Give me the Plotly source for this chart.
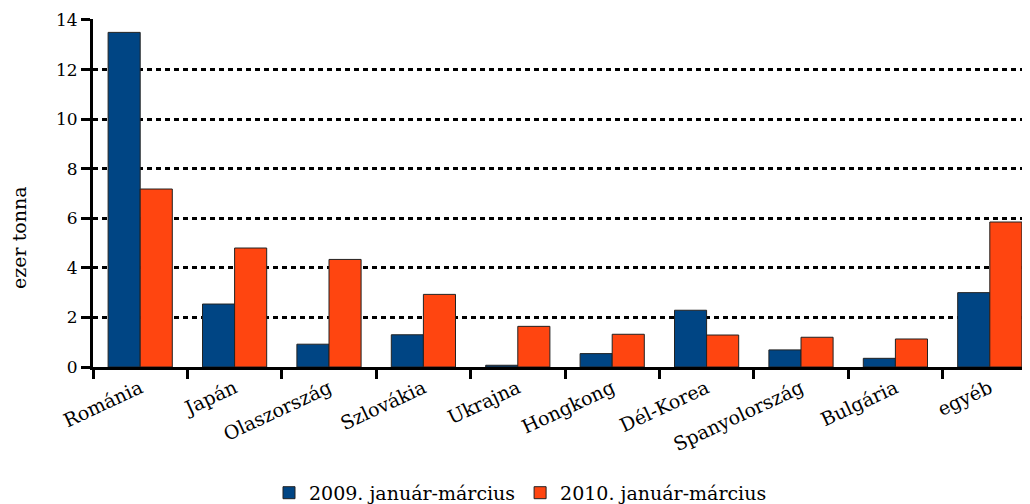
import plotly.graph_objects as go

categories = ["Románia", "Japán", "Olaszország", "Szlovákia", "Ukrajna",
              "Hongkong", "Dél-Korea", "Spanyolország", "Bulgária", "egyéb"]
values_2009 = [13.5, 2.54, 0.92, 1.30, 0.07, 0.54, 2.29, 0.69, 0.35, 3.0]
values_2010 = [7.18, 4.80, 4.34, 2.93, 1.64, 1.32, 1.29, 1.20, 1.13, 5.85]
series_names = ["2009. január-március", "2010. január-március"]
y_ticks = [0, 2, 4, 6, 8, 10, 12, 14]
y_title = "ezer tonna"

FONT = "DejaVu Serif"

fig = go.Figure()
fig.add_trace(go.Bar(x=categories, y=values_2009, name=series_names[0],
                     marker=dict(color="#004584", line=dict(color="#222222", width=1))))
fig.add_trace(go.Bar(x=categories, y=values_2010, name=series_names[1],
                     marker=dict(color="#FF4510", line=dict(color="#222222", width=1))))

fig.add_annotation(text=y_title, xref="paper", yref="paper", x=-0.0784, y=0.3736,
                   xanchor="center", yanchor="middle", textangle=-90, showarrow=False,
                   font=dict(size=19, family=FONT, color="black"))

fig.update_layout(
    width=1030, height=504,
    margin=dict(l=85, r=1, t=11, b=145, autoexpand=False),
    paper_bgcolor="white", plot_bgcolor="white",
    barmode="group", bargap=0.32, bargroupgap=0,
    font=dict(family=FONT, color="#000000", size=17),
    legend=dict(orientation="h", xref="container", x=0.2534, xanchor="left",
                yref="container", y=0.038, yanchor="middle",
                font=dict(size=19, family=FONT), traceorder="normal"),
    xaxis=dict(range=[-0.5, 9.5], showline=True, linecolor="black", linewidth=3,
               ticks="outside", tickson="boundaries", ticklen=9, tickwidth=3,
               tickcolor="black", tickangle=-25, tickfont=dict(size=19, family=FONT),
               showgrid=False, automargin=False),
    yaxis=dict(range=[0, 14.04], tickvals=y_ticks, showline=True, linecolor="black",
               linewidth=3, ticks="outside", ticklen=9, tickwidth=3, tickcolor="black",
               showgrid=True, gridcolor="black", griddash="5px,4px", gridwidth=3,
               zeroline=False, tickfont=dict(size=17, family=FONT), automargin=False),
)

fig.write_html("out.html")
